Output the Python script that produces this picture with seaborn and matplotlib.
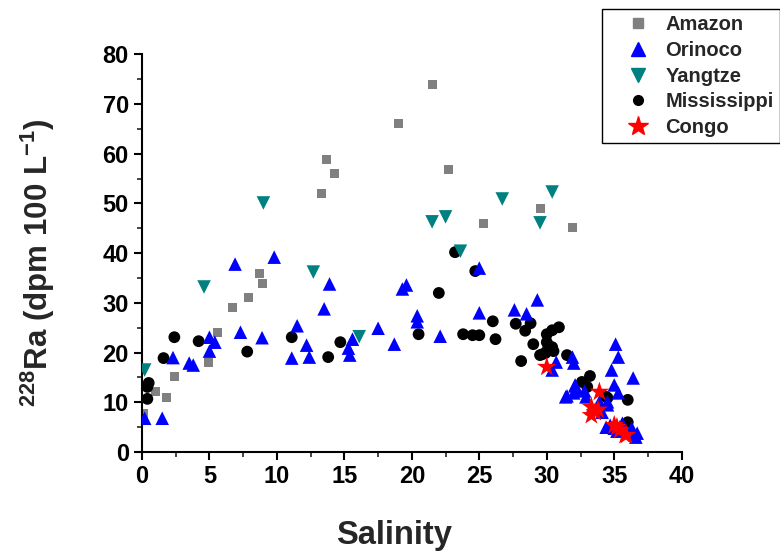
import seaborn as sns
import matplotlib.pyplot as plt
import pandas as pd
from matplotlib.ticker import MultipleLocator
from matplotlib.lines import Line2D

sns.set_style("ticks")
plt.rcParams['font.family'] = ['Liberation Sans', 'DejaVu Sans']
plt.rcParams['font.weight'] = 'bold'
plt.rcParams['mathtext.fontset'] = 'custom'
plt.rcParams['mathtext.rm'] = 'Liberation Sans:bold'
plt.rcParams['mathtext.bf'] = 'Liberation Sans:bold'
plt.rcParams['mathtext.default'] = 'bf'

# Amazon
amazon_x = [0.1, 1.0, 1.8, 2.4, 4.9, 5.6, 6.7, 7.9, 8.9, 8.7, 13.7, 14.3, 13.3,
            21.5, 19.0, 22.7, 25.3, 29.5, 31.9]
amazon_y = [7.8, 12.1, 10.9, 15.1, 18.1, 24.1, 29.0, 31.0, 34.0, 36.0, 58.9, 56.0, 52.0,
            73.9, 66.0, 56.9, 45.9, 48.9, 45.1]

# Orinoco
orinoco_x = [0.2, 1.5, 2.3, 3.5, 3.8, 5.0, 5.4, 5.0, 6.9, 7.3, 8.9, 9.8, 11.5, 12.2, 11.1, 12.4,
             13.9, 13.5, 15.3, 15.4, 15.6, 17.5, 18.7, 19.3, 19.6, 20.4, 20.4, 22.1, 25.0, 25.0,
             27.6, 28.5, 29.3, 30.7, 30.4, 31.9, 32.0, 31.5, 32.1, 32.2, 31.4, 32.1, 32.0, 32.8, 32.9,
             35.1, 35.3, 34.8, 36.4, 35.0, 35.3, 34.5, 34.5, 33.9, 34.1,
             34.4, 35.0, 35.6, 36.3, 36.7, 34.7, 35.2, 36.5, 36.6]
orinoco_y = [6.8, 6.8, 19.0, 17.9, 17.5, 23.1, 22.1, 20.3, 37.8, 24.1, 23.0, 39.2, 25.4, 21.5, 18.9, 19.1,
             33.8, 28.8, 20.9, 19.5, 22.7, 24.9, 21.7, 32.8, 33.6, 27.4, 26.2, 23.3, 37.0, 28.0,
             28.6, 27.8, 30.6, 18.1, 16.5, 19.1, 17.9, 11.3, 13.5, 12.5, 11.1, 13.3, 11.9, 12.3, 11.1,
             21.7, 19.1, 16.5, 14.9, 13.5, 11.9, 9.5, 10.1, 10.1, 8.0,
             5.0, 4.8, 5.8, 4.8, 3.8, 5.4, 4.2, 3.5, 3.0]

# Yangtze
yangtze_x = [0.2, 4.6, 9.0, 12.7, 16.1, 21.5, 22.5, 26.7, 30.4, 29.5, 23.6]
yangtze_y = [16.5, 33.2, 50.1, 36.2, 23.2, 46.3, 47.3, 50.9, 52.3, 46.1, 40.4]

# Mississippi
miss_x = [0.4, 0.4, 0.5, 1.6, 2.4, 4.2, 7.8, 11.1, 13.8, 14.7, 23.2, 24.7, 22.0, 20.5, 23.8,
          24.5, 25.0, 26.0, 26.2, 27.7, 28.4, 28.8, 29.0, 28.1, 29.5, 30.0, 30.4, 30.9, 30.0,
          30.1, 29.9, 30.4, 30.5, 31.5, 29.7, 33.2, 32.6, 33.0, 34.4, 36.0, 36.0, 34.5]
miss_y = [10.7, 13.1, 13.9, 18.9, 23.1, 22.3, 20.2, 23.1, 19.1, 22.1, 40.2, 36.4, 32.0, 23.7, 23.7,
          23.5, 23.5, 26.3, 22.7, 25.8, 24.4, 25.9, 21.7, 18.3, 19.5, 23.7, 24.5, 25.1, 22.1,
          20.9, 19.9, 21.1, 20.3, 19.5, 19.7, 15.3, 14.1, 13.1, 11.1, 10.5, 6.0, 10.9]

# Congo
congo_x = [30.0, 33.9, 33.3, 33.6, 33.3, 33.8, 35.0, 35.4, 35.9, 35.2, 35.8]
congo_y = [17.1, 12.1, 9.1, 8.0, 7.4, 8.5, 5.4, 4.4, 3.4, 5.0, 3.4]

rivers = ["Amazon", "Orinoco", "Yangtze", "Mississippi", "Congo"]
xs = [amazon_x, orinoco_x, yangtze_x, miss_x, congo_x]
ys = [amazon_y, orinoco_y, yangtze_y, miss_y, congo_y]
colors = ["#808080", "#0000FF", "#008080", "#000000", "#FF0000"]
markers = ["s", "^", "v", "o", "*"]
sizes = [42, 95, 95, 72, 220]
zorders = [2, 4, 5, 3, 6]

df = pd.concat([pd.DataFrame({"Salinity": x, "Ra": y, "River": r})
                for r, x, y in zip(rivers, xs, ys)], ignore_index=True)

fig = plt.figure(figsize=(7.8, 5.54), dpi=100)
ax = fig.add_axes([0.182, 0.184, 0.692, 0.718])

for r, c, m, s, z in zip(rivers, colors, markers, sizes, zorders):
    sns.scatterplot(data=df[df["River"] == r], x="Salinity", y="Ra", color=c,
                    marker=m, s=s, edgecolor="none", ax=ax, legend=False, zorder=z)

ax.set_xlim(0, 40)
ax.set_ylim(0, 80)
ax.xaxis.set_major_locator(MultipleLocator(5))
ax.xaxis.set_minor_locator(MultipleLocator(2.5))
ax.yaxis.set_major_locator(MultipleLocator(10))
ax.yaxis.set_minor_locator(MultipleLocator(5))
ax.tick_params(which="major", direction="out", length=6, width=1.5, labelsize=17, colors="black")
ax.tick_params(which="minor", direction="out", length=3.5, width=1.2)
for lab in ax.get_xticklabels() + ax.get_yticklabels():
    lab.set_fontweight("bold")
for sp in ["top", "right"]:
    ax.spines[sp].set_visible(False)
for sp in ["left", "bottom"]:
    ax.spines[sp].set_linewidth(1.5)
    ax.spines[sp].set_color("black")

ax.set_xlabel("Salinity", fontsize=23.5, fontweight="bold")
ax.xaxis.set_label_coords(0.467, -0.172)
ax.set_ylabel("$^{228}$Ra (dpm 100 L$^{-1}$)", fontsize=22.5, fontweight="bold")
ax.yaxis.set_label_coords(-0.157, 0.475)

handles = [Line2D([], [], linestyle="none", marker=m, color=c, markersize=ms)
           for c, m, ms in zip(colors, markers, [7, 10, 10, 7, 15])]
leg = fig.legend(handles, rivers, loc="upper left", bbox_to_anchor=(0.772, 0.984),
                 borderaxespad=0, frameon=True, fancybox=False, edgecolor="black",
                 framealpha=1, prop={"weight": "bold", "size": 14.5}, handletextpad=-0.15,
                 labelspacing=0.34, borderpad=0.3, handlelength=3.0)
leg.get_frame().set_linewidth(1.0)

fig.savefig("out.png", dpi=100)
